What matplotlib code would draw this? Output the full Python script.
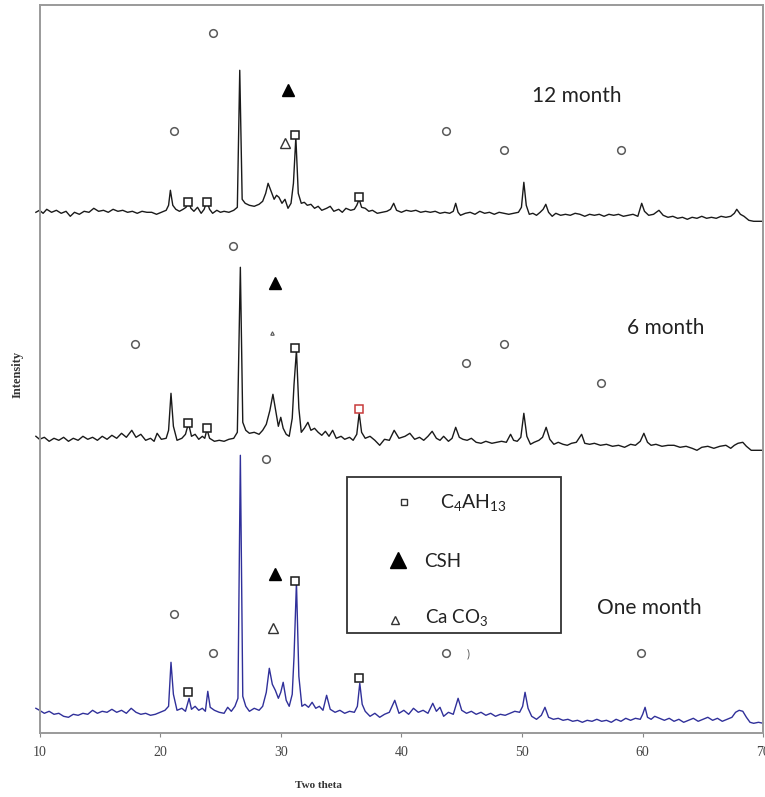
import matplotlib
matplotlib.use("Agg")
import matplotlib.pyplot as plt
import numpy as np
from matplotlib.patches import Rectangle

plt.rcParams['mathtext.fontset'] = 'custom'
plt.rcParams['mathtext.rm'] = 'Lato'

# XRD traces: (two theta, intensity above own baseline)
one_month = [(9.7, 8), (10.0, 6), (10.4, 3), (10.8, 5), (11.2, 2), (11.6, 3), (12.0, 0), (12.4, -1),
             (12.8, 2), (13.2, 1), (13.6, 3), (14.0, 2), (14.4, 6), (14.8, 3), (15.2, 5), (15.6, 4),
             (16.0, 7), (16.4, 4), (16.8, 6), (17.2, 3), (17.6, 8), (18.0, 4), (18.4, 2), (18.8, 3),
             (19.2, 1), (19.6, 2), (20.0, 4), (20.4, 6), (20.7, 10), (20.9, 54), (21.1, 22), (21.4, 6),
             (21.8, 8), (22.1, 5), (22.4, 18), (22.6, 7), (22.9, 10), (23.2, 6), (23.5, 8), (23.75, 5),
             (23.95, 25), (24.15, 9), (24.5, 6), (24.9, 4), (25.3, 3), (25.6, 9), (25.9, 5), (26.2, 10),
             (26.45, 18), (26.65, 261), (26.85, 20), (27.1, 10), (27.4, 5), (27.8, 8), (28.2, 6),
             (28.5, 10), (28.8, 24), (29.05, 48), (29.3, 32), (29.55, 26), (29.8, 18), (30.0, 24),
             (30.2, 34), (30.45, 16), (30.7, 10), (30.95, 22), (31.1, 60), (31.3, 134), (31.5, 40),
             (31.75, 10), (32.0, 12), (32.3, 9), (32.6, 14), (32.9, 8), (33.2, 10), (33.5, 6), (33.8, 21),
             (34.1, 7), (34.5, 4), (34.9, 6), (35.3, 3), (35.7, 5), (36.1, 4), (36.35, 10), (36.55, 33),
             (36.75, 12), (37.0, 5), (37.4, 0), (37.8, 3), (38.2, -1), (38.6, 2), (39.0, 4), (39.45, 16),
             (39.8, 3), (40.2, 6), (40.6, 2), (41.0, 8), (41.4, 4), (41.8, 6), (42.2, 3), (42.6, 13),
             (42.9, 5), (43.2, 9), (43.5, 0), (43.9, 4), (44.3, 2), (44.7, 18), (45.0, 6), (45.4, 3),
             (45.8, 5), (46.2, 2), (46.6, 4), (47.0, 1), (47.4, 3), (47.8, 0), (48.2, 2), (48.6, 1),
             (49.0, 3), (49.4, 5), (49.8, 4), (50.05, 10), (50.25, 24), (50.5, 8), (50.8, 0), (51.2, -3),
             (51.6, 1), (51.9, 9), (52.2, -1), (52.6, -3), (53.0, -2), (53.4, -4), (53.8, -3), (54.2, -5),
             (54.6, -4), (55.0, -6), (55.4, -4), (55.8, -5), (56.2, -3), (56.6, -5), (57.0, -4),
             (57.4, -6), (57.8, -3), (58.2, -5), (58.6, -2), (59.0, -4), (59.4, -2), (59.8, -3),
             (60.0, 2), (60.2, 9), (60.4, -1), (60.7, -3), (61.0, 0), (61.4, -2), (61.8, -4), (62.2, -2),
             (62.6, -5), (63.0, -3), (63.4, -6), (63.8, -4), (64.2, -2), (64.6, -5), (65.0, -3),
             (65.4, -1), (65.8, -4), (66.2, -2), (66.6, -5), (67.0, -3), (67.4, -1), (67.7, 4), (68.0, 6),
             (68.3, 5), (68.6, -1), (68.9, -6), (69.2, -7), (69.6, -6), (70.0, -7)]

six_month = [(9.7, 6), (10.0, 3), (10.4, 5), (10.8, 1), (11.2, 4), (11.6, 2), (12.0, 5), (12.4, 1),
             (12.8, 4), (13.2, 2), (13.6, 6), (14.0, 3), (14.4, 5), (14.8, 2), (15.2, 6), (15.6, 3),
             (16.0, 7), (16.4, 4), (16.8, 9), (17.2, 5), (17.65, 12), (18.0, 5), (18.4, 8), (18.8, 2),
             (19.2, 4), (19.5, 1), (19.75, 9), (20.1, 3), (20.5, 4), (20.7, 12), (20.9, 49), (21.1, 16),
             (21.4, 2), (21.8, 4), (22.1, 8), (22.35, 19), (22.6, 6), (22.9, 8), (23.2, 3), (23.5, 6),
             (23.7, 4), (23.88, 13), (24.1, 4), (24.5, 1), (24.9, 2), (25.3, 1), (25.7, 3), (26.1, 4),
             (26.4, 10), (26.65, 175), (26.85, 20), (27.1, 12), (27.4, 9), (27.8, 10), (28.2, 8),
             (28.5, 12), (28.8, 18), (29.1, 32), (29.35, 48), (29.6, 30), (29.8, 16), (30.0, 25),
             (30.2, 14), (30.45, 8), (30.7, 6), (30.95, 24), (31.1, 58), (31.3, 92), (31.5, 34),
             (31.7, 10), (31.95, 14), (32.25, 20), (32.5, 12), (32.8, 14), (33.1, 10), (33.4, 7),
             (33.7, 11), (34.0, 6), (34.3, 12), (34.6, 4), (35.0, 6), (35.3, 3), (35.7, 5), (36.0, 2),
             (36.3, 8), (36.5, 29), (36.7, 10), (37.0, 4), (37.4, 6), (37.8, 2), (38.2, -3), (38.6, 3),
             (39.0, 2), (39.4, 12), (39.8, 4), (40.3, 6), (40.7, 9), (41.1, 3), (41.5, 5), (41.85, 2),
             (42.2, 6), (42.55, 11), (42.9, 4), (43.2, 2), (43.5, 6), (43.9, 1), (44.2, 4), (44.5, 15),
             (44.8, 5), (45.1, 3), (45.45, 2), (45.8, 4), (46.2, 0), (46.6, -1), (47.0, 1), (47.5, -1),
             (47.9, 0), (48.3, 1), (48.7, 0), (49.05, 8), (49.3, 2), (49.6, 1), (49.9, 5), (50.15, 29),
             (50.4, 6), (50.7, -2), (51.0, 0), (51.4, 2), (51.7, 5), (52.0, 15), (52.3, 3), (52.64, -2),
             (53.0, 0), (53.4, -2), (53.75, -3), (54.1, -1), (54.5, 0), (54.94, 8), (55.2, -1),
             (55.6, -2), (56.0, -1), (56.5, -3), (57.0, -2), (57.5, -4), (58.0, -3), (58.5, -5),
             (59.0, -2), (59.4, -3), (59.8, 1), (60.1, 9), (60.4, 0), (60.7, -3), (61.1, -2), (61.6, -4),
             (62.1, -3), (62.6, -3), (63.1, -5), (63.6, -4), (64.1, -6), (64.5, -8), (64.9, -5),
             (65.4, -4), (65.9, -6), (66.4, -4), (66.9, -3), (67.3, -6), (67.6, -3), (67.9, -1),
             (68.3, 0), (68.6, -4), (69.0, -8), (69.5, -8), (70.0, -8)]

twelve_month = [(9.7, 1), (10.0, 3), (10.3, 0), (10.6, 4), (11.0, 1), (11.4, 3), (11.8, 0), (12.2, 2),
                (12.55, -3), (12.9, 1), (13.3, -1), (13.7, 2), (14.1, 1), (14.5, 5), (14.9, 2), (15.3, 3),
                (15.7, 1), (16.1, 4), (16.5, 2), (16.9, 3), (17.3, 1), (17.7, 2), (18.1, 0), (18.5, 2),
                (18.9, 1), (19.3, 1), (19.7, -1), (20.1, 1), (20.5, 3), (20.7, 8), (20.85, 23), (21.05, 8),
                (21.3, 4), (21.6, 2), (21.9, 4), (22.15, 6), (22.35, 12), (22.55, 5), (22.8, 2), (23.1, 6),
                (23.4, 0), (23.65, 4), (23.87, 12), (24.1, 4), (24.35, 0), (24.7, 3), (25.0, 1), (25.3, 2),
                (25.7, 1), (26.1, 3), (26.4, 6), (26.6, 143), (26.8, 14), (27.05, 10), (27.4, 8),
                (27.8, 7), (28.2, 9), (28.5, 12), (28.75, 20), (28.95, 30), (29.2, 22), (29.45, 14),
                (29.65, 18), (29.85, 16), (30.1, 10), (30.35, 14), (30.6, 5), (30.85, 10), (31.05, 30),
                (31.25, 76), (31.45, 20), (31.7, 10), (31.95, 11), (32.2, 8), (32.5, 9), (32.8, 5),
                (33.1, 7), (33.4, 3), (33.8, 5), (34.1, 7), (34.4, 2), (34.8, 4), (35.1, 1), (35.4, 5),
                (35.8, 3), (36.1, 4), (36.3, 8), (36.5, 14), (36.7, 6), (37.0, 5), (37.3, 2), (37.6, 3),
                (38.0, 0), (38.4, 1), (38.8, 2), (39.1, 4), (39.36, 10), (39.6, 3), (40.0, 1), (40.4, 3),
                (40.8, 2), (41.2, 3), (41.6, 1), (42.0, 2), (42.4, 1), (42.8, 2), (43.2, 0), (43.6, 1),
                (44.0, 0), (44.3, 2), (44.5, 10), (44.7, 1), (44.9, -2), (45.3, 0), (45.7, 1), (46.1, -1),
                (46.5, 2), (46.9, 0), (47.3, 1), (47.7, -1), (48.1, 1), (48.5, 0), (48.9, -1), (49.3, 0),
                (49.7, 1), (49.95, 6), (50.15, 31), (50.35, 8), (50.6, -1), (50.9, 0), (51.2, -2),
                (51.5, 1), (51.75, 4), (51.97, 9), (52.2, 1), (52.5, -3), (52.8, 0), (53.2, -2), (53.6, -1),
                (54.0, -2), (54.4, 0), (54.8, -1), (55.2, -3), (55.6, -1), (56.0, -2), (56.4, -1),
                (56.8, -3), (57.2, -1), (57.6, -2), (58.0, -1), (58.4, -3), (58.8, -2), (59.2, -1),
                (59.6, -3), (59.92, 10), (60.15, 2), (60.5, -2), (60.9, -1), (61.35, 3), (61.7, -2),
                (62.1, -4), (62.5, -3), (62.9, -5), (63.3, -4), (63.7, -6), (64.1, -4), (64.5, -5),
                (64.9, -3), (65.3, -5), (65.7, -4), (66.1, -5), (66.5, -3), (66.9, -4), (67.3, -3),
                (67.6, 0), (67.8, 4), (68.1, -1), (68.4, -3), (68.8, -7), (69.2, -8), (69.6, -8), (70.0, -8)]

# vertical offsets of the stacked traces
offsets = {'one': 17, 'six': 291, 'twelve': 520}

# phase markers (two theta, plotted height)
circles = [(24.4, 700), (21.16, 602), (43.71, 602), (48.52, 583), (58.17, 583),
           (26.03, 487), (17.95, 389), (45.34, 370), (48.52, 389), (56.51, 350),
           (28.77, 274), (21.16, 119), (24.4, 80), (43.71, 80), (59.86, 80)]
squares = [(22.35, 531), (23.88, 531), (31.2, 598), (36.46, 536),
           (22.35, 310), (23.88, 305), (31.15, 385),
           (22.35, 41), (31.2, 152), (36.46, 55)]
red_squares = [(36.46, 324)]
csh = [(30.6, 643), (29.54, 450), (29.54, 159)]
caco3 = [(30.37, 590), (29.32, 105)]
caco3_small = [(29.27, 400)]

labels = [(50.85, 631, '12 month'), (58.67, 399, '6 month'), (56.18, 119, 'One month')]

fig = plt.figure(figsize=(7.65, 7.97), dpi=100)
ax = fig.add_axes([39.5 / 765, 1 - 733.3 / 797, 723.8 / 765, 728.3 / 797])

for trace, key, color in [(one_month, 'one', '#30309a'), (six_month, 'six', '#1a1a1a'),
                          (twelve_month, 'twelve', '#1a1a1a')]:
    tt, inten = np.array(trace).T
    ax.plot(tt, inten + offsets[key], color=color, lw=1.0, clip_on=False)

cx, cy = np.array(circles).T
ax.plot(cx, cy, 'o', ms=5.5, mfc='white', mec='#5a5a5a', mew=1.1, ls='none')
sx, sy = np.array(squares).T
ax.plot(sx, sy, 's', ms=6, mfc='white', mec='#1a1a1a', mew=1.1, ls='none')
rx, ry = np.array(red_squares).T
ax.plot(rx, ry, 's', ms=6, mfc='white', mec='#c83a3a', mew=1.1, ls='none')
tx, ty = np.array(csh).T
ax.plot(tx, ty, '^', ms=8, color='black', ls='none')
ox, oy = np.array(caco3).T
ax.plot(ox, oy, '^', ms=6.5, mfc='white', mec='#333333', mew=1.0, ls='none')
px_, py_ = np.array(caco3_small).T
ax.plot(px_, py_, '^', ms=2.5, mfc='white', mec='#555555', mew=0.8, ls='none')
ax.text(45.5, 80, ')', fontsize=8, color='#555555', ha='center', va='center', family='Lato')

for x, y, s in labels:
    ax.text(x, y, s, fontsize=15, family='Lato', color='#222222', ha='left', va='baseline')

# legend box drawn by hand
ax.add_patch(Rectangle((0.4253, 0.1373), 0.2952, 0.2142, transform=ax.transAxes,
                       fill=False, ec='#333333', lw=1.3, zorder=5))
ax.plot([40.19], [231.6], 's', ms=5, mfc='white', mec='#333333', mew=1.0)
ax.plot([39.75], [173], '^', ms=11, color='black')
ax.plot([39.5], [113], '^', ms=6, mfc='white', mec='#333333', mew=1.0)
ax.text(43.24, 225, r'C$_{\mathrm{4}}$AH$_{\mathrm{13}}$', fontsize=14, family='Lato', color='#222222', va='baseline')
ax.text(41.85, 166, 'CSH', fontsize=13.5, family='Lato', color='#222222', va='baseline')
ax.text(41.99, 110, r'Ca CO$_{\mathrm{3}}$', fontsize=13.5, family='Lato', color='#222222', va='baseline')

ax.set_xlim(10, 70)
ax.set_ylim(0, 728.3)
ax.set_xticks(np.arange(10, 71, 10))
ax.set_yticks([])
ax.tick_params(axis='x', direction='out', length=3, color='#888888', pad=6,
               labelsize=10, labelcolor='#444444')
for lab in ax.get_xticklabels():
    lab.set_family('Liberation Serif')
for sp in ax.spines.values():
    sp.set_color('#9a9a9a')
    sp.set_linewidth(1.4)

fig.text(318 / 765, 1 - 786 / 797, 'Two theta', family='Liberation Serif', fontweight='bold',
         fontsize=8, ha='center', va='center', color='#333333')
fig.text(18 / 765, 1 - 374 / 797, 'Intensity', family='Liberation Serif', fontweight='bold',
         fontsize=9, rotation=90, ha='center', va='center', color='#333333')

fig.savefig('out.png', dpi=100)
